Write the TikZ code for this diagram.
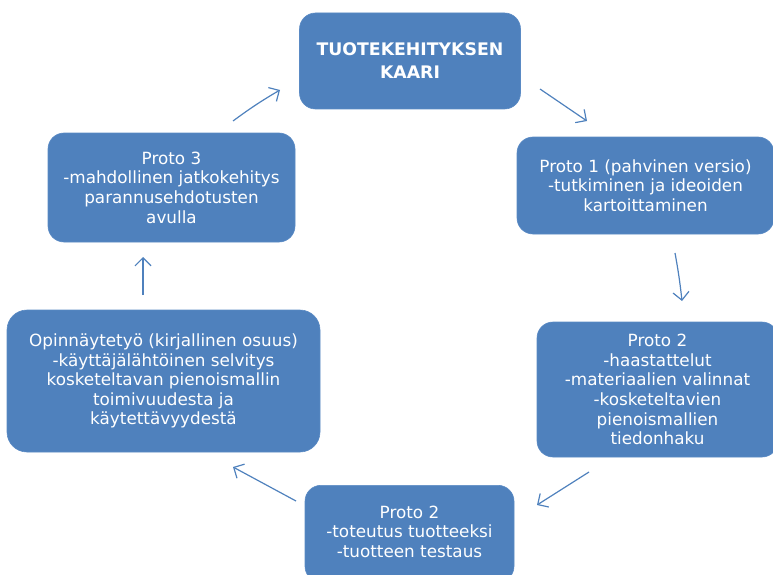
\documentclass[tikz,border=0pt]{standalone}
\usepackage{fontspec}
\setmainfont{DejaVu Sans}
\usetikzlibrary{arrows.meta}
\definecolor{boxblue}{HTML}{4F81BD}
\definecolor{boxedge}{HTML}{5A8AC4}
\tikzset{
  card/.style={rectangle, rounded corners=16pt, fill=boxblue, draw=boxedge, line width=0.6pt,
    text=white, align=center, inner sep=0pt,
    font=\fontsize{16.8}{19.6}\selectfont},
  flowarrow/.style={draw=boxblue, line width=1.2pt, -{Straight Barb[length=8pt,width=16pt,line width=1.2pt]}}
}
\begin{document}
\begin{tikzpicture}[x=1pt,y=-1pt]
\useasboundingbox (0,0) rectangle (773,575);
\clip (0,0) rectangle (773,575);
\node[card, minimum width=221pt, minimum height=96pt, font=\fontsize{17.3}{23}\selectfont\bfseries] (title) at (410,61)
  {TUOTEKEHITYKSEN\\KAARI};
\node[card, minimum width=257pt, minimum height=97pt] (p1) at (645.5,185.5)
  {Proto 1 (pahvinen versio)\\-tutkiminen ja ideoiden\\kartoittaminen};
\node[card, minimum width=241pt, minimum height=135pt] (p2a) at (657.5,389.5)
  {Proto 2\\-haastattelut\\-materiaalien valinnat\\-kosketeltavien\\pienoismallien\\tiedonhaku};
\node[card, minimum width=209pt, minimum height=97pt, anchor=north] (p2b) at (409.5,485)
  {\raisebox{4pt}{\begin{tabular}{@{}c@{}}Proto 2\\-toteutus tuotteeksi\\-tuotteen testaus\end{tabular}}};
\node[card, minimum width=313pt, minimum height=142pt, rounded corners=20pt] (op) at (163.5,381)
  {Opinnäytetyö (kirjallinen osuus)\\-käyttäjälähtöinen selvitys\\kosketeltavan pienoismallin\\toimivuudesta ja\\käytettävyydestä};
\node[card, minimum width=247pt, minimum height=109pt] (p3) at (171.5,187.5)
  {Proto 3\\-mahdollinen jatkokehitys\\parannusehdotusten\\avulla};
% arrow end points
\coordinate (a1s) at (540,89);  \coordinate (a1e) at (587,121);
\coordinate (a2s) at (675,253); \coordinate (a2e) at (682,301);
\coordinate (a3s) at (589,472); \coordinate (a3e) at (537,505);
\coordinate (a4s) at (296,501); \coordinate (a4e) at (233,467);
\coordinate (a5s) at (143,295); \coordinate (a5e) at (143,257);
\coordinate (a6s) at (233,121); \coordinate (a6e) at (280,90);
\draw[flowarrow] (a1s) -- (a1e);
\draw[flowarrow] (a2s) to[bend left=2] (a2e);
\draw[flowarrow] (a3s) -- (a3e);
\draw[flowarrow] (a4s) -- (a4e);
\draw[flowarrow] (a5s) -- (a5e);
\draw[flowarrow] (a6s) to[bend left=3] (a6e);
\end{tikzpicture}
\end{document}
